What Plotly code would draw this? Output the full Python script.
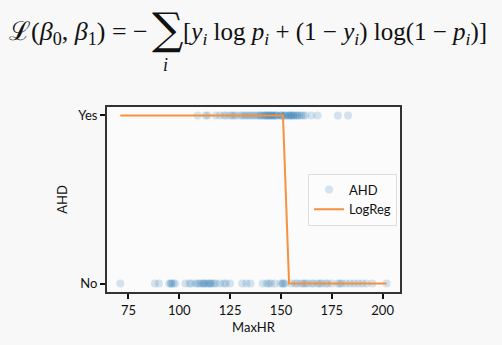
import plotly.graph_objects as go

# MaxHR of patients, split by AHD outcome (1 = Yes, 0 = No)
maxhr_yes = [109, 113, 114, 118, 120, 122, 123, 125, 126, 127, 128, 130, 131, 132,
             133, 134, 135, 136, 137, 138, 139, 140, 140, 141, 142, 142, 143, 143,
             144, 144, 145, 145, 146, 146, 147, 147, 148, 148, 150, 150, 150, 151,
             152, 152, 153, 154, 154, 155, 155, 156, 156, 157, 158, 158, 159, 160,
             161, 162, 165, 168, 178, 183]
maxhr_no = [71, 88, 90, 95, 96, 96, 97, 98, 103, 105, 106, 108, 109, 110, 111, 112,
            112, 113, 114, 115, 115, 116, 117, 118, 120, 122, 123, 125, 131, 133,
            135, 141, 143, 144, 145, 147, 150, 151, 151, 152, 155, 157, 158, 160,
            161, 162, 163, 165, 166, 168, 169, 170, 172, 173, 175, 178, 179, 180,
            182, 184, 186, 188, 190, 192, 195, 202]

# fitted logistic regression curve over sorted MaxHR
fit_maxhr = [71, 151, 154, 202]
fit_prob = [1.0, 1.0, 0.0, 0.0]

y_ticks = [0, 1]
y_labels = ["No", "Yes"]
x_ticks = [75, 100, 125, 150, 175, 200]

pts_x = maxhr_yes + maxhr_no
pts_y = [1] * len(maxhr_yes) + [0] * len(maxhr_no)

FONT = "Lato"
fig = go.Figure()
fig.add_trace(go.Scatter(
    x=pts_x, y=pts_y, mode="markers", name="AHD",
    marker=dict(color="rgba(31,119,180,0.18)", size=8, line=dict(width=0)),
))
fig.add_trace(go.Scatter(
    x=fit_maxhr, y=fit_prob, mode="lines", name="LogReg",
    line=dict(color="#f7913d", width=2),
))

# negative log-likelihood formula
serif = dict(family="Liberation Serif", size=25, color="#111")
fig.add_annotation(xref="paper", yref="paper", x=-0.341, y=1.40, xanchor="left",
                   yanchor="middle", showarrow=False,
                   font=dict(family="Liberation Serif", size=26, color="#111"),
                   text="ℒ(<i>β</i><sub>0</sub>, <i>β</i><sub>1</sub>) = −")
fig.add_annotation(xref="paper", yref="paper", x=0.208, y=1.425, xanchor="center",
                   yanchor="middle", showarrow=False,
                   font=dict(family="DejaVu Serif", size=44, color="#111"), text="∑")
fig.add_annotation(xref="paper", yref="paper", x=0.200, y=1.225, xanchor="center",
                   yanchor="middle", showarrow=False,
                   font=dict(family="Liberation Serif", size=18, color="#111"), text="<i>i</i>")
fig.add_annotation(xref="paper", yref="paper", x=0.253, y=1.40, xanchor="left",
                   yanchor="middle", showarrow=False, font=serif,
                   text="[<i>y<sub>i</sub></i> log <i>p<sub>i</sub></i> + (1 − <i>y<sub>i</sub></i>)"
                        " log(1 − <i>p<sub>i</sub></i>)]")

fig.update_layout(
    width=502, height=345,
    margin=dict(l=107, r=102, t=107, b=48),
    paper_bgcolor="#f8f8f8", plot_bgcolor="#fbfbfb",
    font=dict(family=FONT, size=13, color="#111"),
    showlegend=True,
    legend=dict(x=0.99, y=0.5, xanchor="right", yanchor="middle",
                bgcolor="#fcfcfc", bordercolor="#dddddd", borderwidth=1,
                font=dict(family=FONT, size=13)),
)
fig.update_xaxes(
    range=[64.45, 208.55], tickvals=x_ticks, showgrid=False, zeroline=False,
    showline=True, linecolor="#333", linewidth=2, mirror=True,
    ticks="outside", ticklen=5, tickwidth=2, tickcolor="#111",
    title=dict(text="MaxHR", font=dict(family=FONT, size=13), standoff=6),
)
fig.update_yaxes(
    range=[-0.05, 1.05], tickvals=y_ticks, ticktext=y_labels, showgrid=False,
    zeroline=False, showline=True, linecolor="#333", linewidth=2, mirror=True,
    ticks="outside", ticklen=5, tickwidth=2, tickcolor="#111",
    title=dict(text="AHD", font=dict(family=FONT, size=13), standoff=8),
)

fig.write_html("out.html")
